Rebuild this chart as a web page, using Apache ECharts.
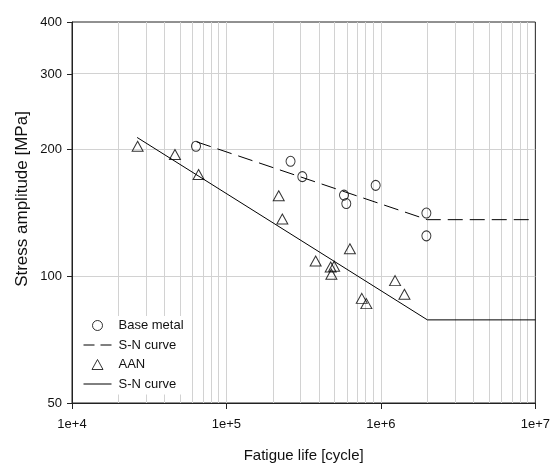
<!DOCTYPE html>
<html>
<head>
<meta charset="utf-8">
<script src="https://cdn.jsdelivr.net/npm/echarts@6/dist/echarts.min.js"></script>
<style>html,body{margin:0;padding:0;background:#fff;}#c{width:553px;height:468px;}</style>
</head>
<body>
<div id="c"></div>
<script>
// ---- data ----
var baseX = [6.35e4, 2.6e5, 3.1e5, 5.77e5, 5.97e5, 9.25e5, 1.97e6, 1.97e6];
var baseY = [203, 187, 172, 155.5, 148.5, 164, 141, 124.5];
var aanX = [2.66e4, 4.64e4, 6.6e4, 2.18e5, 2.3e5, 3.78e5, 4.73e5, 4.98e5, 4.78e5, 6.3e5, 7.52e5, 8.05e5, 1.235e6, 1.42e6];
var aanY = [203, 194, 174, 155, 136.5, 108.5, 105, 105.5, 101, 116, 88.5, 86, 97.5, 90.5];
var snBaseX = [6.4e4, 2e6, 1e7];
var snBaseY = [208, 136, 136];
var snAanX = [2.64e4, 2e6, 1e7];
var snAanY = [213, 78.7, 78.7];
var xTicks = [1e4, 1e5, 1e6, 1e7];
var yTicks = [50, 100, 200, 300, 400];
var yGrid = [100, 200, 300];
var xMinorMult = [2, 3, 4, 5, 6, 7, 8, 9];
var xDecades = [1e4, 1e5, 1e6];

var L = Math.log10;
function pts(xs, ys) { return xs.map(function (x, i) { return [L(x), L(ys[i])]; }); }

var gridLines = [];
xDecades.forEach(function (d) { xMinorMult.forEach(function (m) { gridLines.push({ xAxis: L(d * m) }); }); });
[1e5, 1e6].forEach(function (d) { gridLines.push({ xAxis: L(d) }); });
yGrid.forEach(function (v) { gridLines.push({ yAxis: L(v) }); });

var FONT = 'Liberation Sans, Arial';
var txt = '#111';
var triIcon = 'path://M0,10L5.5,0L11,10Z';
var chart = echarts.init(document.getElementById('c'), null, { renderer: 'canvas' });
chart.setOption({
  animation: false,
  backgroundColor: '#fff',
  grid: { left: 72, right: 13, top: 22, bottom: 61, show: true, borderColor: '#222', borderWidth: 1, backgroundColor: 'transparent' },
  xAxis: {
    type: 'value', min: L(xTicks[0]), max: L(xTicks[xTicks.length - 1]), interval: 1,
    name: 'Fatigue life [cycle]', nameLocation: 'middle', nameGap: 45,
    nameTextStyle: { fontFamily: FONT, fontSize: 15, color: txt },
    axisLine: { lineStyle: { color: '#222', width: 1 } },
    axisTick: { show: true, length: 6, inside: false, lineStyle: { color: '#222' } },
    axisLabel: { fontFamily: FONT, fontSize: 13, color: txt, margin: 15,
      formatter: function (v) { return '1e+' + Math.round(v); } },
    splitLine: { show: false }
  },
  yAxis: {
    type: 'value', min: L(yTicks[0]), max: L(yTicks[yTicks.length - 1]),
    axisLine: { show: true, lineStyle: { color: '#222', width: 1 } },
    axisTick: { show: true, length: 5, inside: false, customValues: yTicks.map(L), lineStyle: { color: '#222' } },
    axisLabel: { fontFamily: FONT, fontSize: 13, color: txt, margin: 10,
      customValues: yTicks.map(L),
      formatter: function (v) { return String(Math.round(Math.pow(10, v))); } },
    splitLine: { show: false }
  },
  legend: {
    orient: 'vertical', left: 80, top: 316, padding: [3, 3, 4, 3], backgroundColor: '#fff',
    itemWidth: 28, itemHeight: 10, itemGap: 6.5, z: 10,
    symbolKeepAspect: true,
    textStyle: { fontFamily: FONT, fontSize: 13, color: txt, lineHeight: 13, padding: [0, 0, 0, 2] },
    formatter: function (n) { return n.indexOf('S-N curve') === 0 ? 'S-N curve' : n; },
    data: [
      { name: 'Base metal', icon: 'circle', itemStyle: { color: 'transparent', borderColor: '#000', borderWidth: 1 } },
      { name: 'S-N curve (Base metal)', itemStyle: { opacity: 0 }, lineStyle: { type: [11, 6], color: '#000', width: 1 } },
      { name: 'AAN', icon: triIcon, itemStyle: { color: 'transparent', borderColor: '#000', borderWidth: 1 } },
      { name: 'S-N curve (AAN)', itemStyle: { opacity: 0 }, lineStyle: { type: 'solid', color: '#000', width: 1 } }
    ]
  },
  series: [
    {
      name: 'grid', type: 'line', data: [], z: 0, silent: true,
      markLine: { silent: true, z: 0, symbol: 'none', label: { show: false },
        lineStyle: { color: '#d2d2d2', width: 1, type: 'solid' }, data: gridLines, animation: false }
    },
    {
      name: 'S-N curve (Base metal)', type: 'line', data: pts(snBaseX, snBaseY), symbol: 'none', z: 3,
      lineStyle: { color: '#000', width: 1, type: [15, 7] }, itemStyle: { color: '#000' }
    },
    {
      name: 'S-N curve (AAN)', type: 'line', data: pts(snAanX, snAanY), symbol: 'none', z: 3,
      lineStyle: { color: '#000', width: 1, type: 'solid' }, itemStyle: { color: '#000' }
    },
    {
      name: 'Base metal', type: 'scatter', data: pts(baseX, baseY), symbol: 'circle', symbolSize: [9, 10], z: 4,
      itemStyle: { color: 'transparent', borderColor: '#000', borderWidth: 1 }
    },
    {
      name: 'AAN', type: 'scatter', data: pts(aanX, aanY), symbol: 'triangle', symbolSize: [11, 10], z: 4,
      itemStyle: { color: 'transparent', borderColor: '#000', borderWidth: 1 }
    }
  ],
  graphic: [{
    type: 'text', x: 22, y: 199, rotation: Math.PI / 2,
    style: { text: 'Stress amplitude [MPa]', fontFamily: FONT, fontSize: 17, fill: txt,
      align: 'center', verticalAlign: 'middle' }
  }]
});
</script>
</body>
</html>
